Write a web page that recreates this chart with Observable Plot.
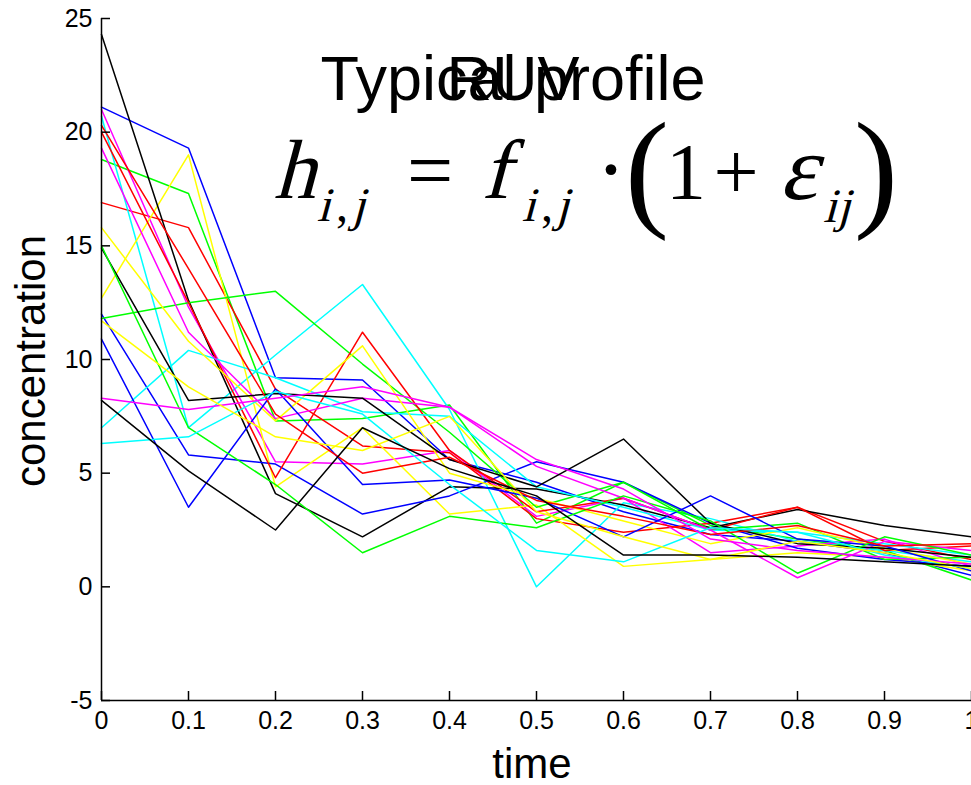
<!DOCTYPE html>
<html>
<head>
<meta charset="utf-8">
<script src="https://cdn.jsdelivr.net/npm/d3@7"></script>
<script src="https://cdn.jsdelivr.net/npm/@observablehq/plot@0.6"></script>
<style>
  html, body { margin: 0; padding: 0; background: #fff; overflow: hidden; }
  #chart { position: relative; width: 971px; height: 785px; }
</style>
</head>
<body>
<div id="chart"></div>
<script>
// ---- data ----
const time = [0, 0.1, 0.2, 0.3, 0.4, 0.5, 0.6, 0.7, 0.8, 0.9, 1.0];

const b1 = [21.1, 19.3, 9.2, 9.1, 5.6, 4.6, 3.3, 2.3, 2.0, 1.5, 0.5];
const g1 = [18.8, 17.3, 7.3, 7.4, 8.0, 2.8, 4.6, 2.7, 2.1, 1.6, 0.3];
const r1 = [16.9, 15.8, 8.7, 6.2, 5.9, 3.0, 2.4, 2.8, 3.5, 2.0, 1.2];
const c1 = [20.7, 7.0, 10.2, 13.3, 7.8, 0.0, 3.7, 3.0, 2.0, 1.6, 1.1];
const m1 = [21.0, 12.3, 5.5, 5.4, 6.0, 3.1, 3.9, 1.5, 1.8, 2.1, 0.9];
const y1 = [12.7, 19.0, 4.4, 7.0, 3.2, 3.6, 0.9, 1.2, 1.5, 1.3, 0.7];
const k1 = [24.3, 12.6, 4.1, 2.2, 4.4, 4.3, 3.6, 2.6, 3.4, 2.7, 2.2];
const b2 = [12.0, 5.8, 5.4, 3.2, 4.0, 5.5, 4.6, 2.8, 1.7, 1.2, 0.9];
const g2 = [11.8, 12.5, 13.0, 9.8, 6.8, 3.5, 4.6, 2.5, 2.8, 1.2, 1.3];
const r2 = [20.0, 12.5, 4.8, 11.2, 6.0, 3.3, 3.9, 2.5, 3.5, 1.6, 1.8];
const c2 = [7.0, 10.4, 9.2, 7.7, 7.5, 4.4, 3.5, 2.5, 2.4, 1.9, 1.4];
const m2 = [19.3, 11.2, 7.4, 8.3, 7.9, 5.3, 3.9, 2.5, 0.4, 2.0, 1.6];
const y2 = [15.8, 10.8, 7.3, 10.6, 5.0, 3.9, 2.9, 1.9, 2.6, 1.7, 1.0];
const k2 = [14.9, 8.2, 8.5, 8.3, 5.6, 4.4, 6.5, 2.8, 1.9, 1.7, 1.3];
const b3 = [10.9, 3.5, 8.7, 4.5, 4.7, 3.9, 2.2, 4.0, 2.1, 1.8, 0.7];
const g3 = [15.0, 7.0, 4.5, 1.5, 3.1, 2.6, 4.0, 2.9, 0.6, 2.2, 1.4];
const r3 = [20.3, 14.0, 7.6, 5.0, 5.7, 3.8, 3.1, 2.3, 2.7, 1.8, 1.9];
const c3 = [6.3, 6.6, 8.6, 7.6, 4.5, 1.6, 1.1, 2.6, 2.4, 1.4, 0.8];
const m3 = [8.3, 7.8, 8.3, 8.8, 7.9, 5.6, 4.3, 2.1, 1.6, 1.3, 1.0];
const y3 = [11.7, 8.8, 6.6, 6.0, 7.5, 3.3, 2.2, 1.2, 2.0, 1.5, 0.8];
const k3 = [8.2, 5.1, 2.5, 7.0, 5.2, 4.0, 1.4, 1.4, 1.3, 1.1, 0.9];

const seriesValues = [b1, g1, r1, c1, m1, y1, k1, b2, g2, r2, c2, m2, y2, k2, b3, g3, r3, c3, m3, y3, k3];
const seriesColors = ["#0000ff", "#00ff00", "#ff0000", "#00ffff", "#ff00ff", "#ffff00", "#000000",
                      "#0000ff", "#00ff00", "#ff0000", "#00ffff", "#ff00ff", "#ffff00", "#000000",
                      "#0000ff", "#00ff00", "#ff0000", "#00ffff", "#ff00ff", "#ffff00", "#000000"];

const xTicks = [0, 0.1, 0.2, 0.3, 0.4, 0.5, 0.6, 0.7, 0.8, 0.9, 1];
const xTickLabels = ["0", "0.1", "0.2", "0.3", "0.4", "0.5", "0.6", "0.7", "0.8", "0.9", "1"];
const yTicks = [-5, 0, 5, 10, 15, 20, 25];
const yTickLabels = ["-5", "0", "5", "10", "15", "20", "25"];

const titleText = "Typical profile";
const overlayText = "RUV";
const xLabel = "time";
const yLabel = "concentration";

// ---- build table ----
const rows = seriesValues.flatMap((vals, k) =>
  time.map((t, i) => ({t, v: vals[i], k, color: seriesColors[k]})));

const plot = Plot.plot({
  width: 971,
  height: 785,
  marginLeft: 101,
  marginRight: 0,
  marginTop: 18,
  marginBottom: 85,
  style: {fontFamily: "'Liberation Sans', Arial, sans-serif", fontSize: "25px", background: "#fff", color: "#000", overflow: "visible"},
  x: {domain: [0, 1]},
  y: {domain: [-5, 25]},
  color: {type: "identity"},
  marks: [
    Plot.line(rows, {x: "t", y: "v", z: "k", stroke: "color", strokeWidth: 1.5}),
    // tick labels
    Plot.axisX(xTicks, {tickSize: 0, tickPadding: 11, tickFormat: (d, i) => xTickLabels[i], label: null}),
    Plot.axisY(yTicks, {tickSize: 0, tickPadding: 9, tickFormat: (d, i) => yTickLabels[i], label: null}),
    // inward ticks
    Plot.axisX(xTicks, {tickSize: -9, tickFormat: () => "", label: null, strokeWidth: 1.5}),
    Plot.axisY(yTicks, {tickSize: -9, tickFormat: () => "", label: null, strokeWidth: 1.5}),
    // axis lines
    Plot.ruleX([0], {stroke: "#000", strokeWidth: 1.5}),
    Plot.ruleY([-5], {stroke: "#000", strokeWidth: 1.5})
  ]
});

document.getElementById("chart").appendChild(plot);

// ---- annotations: axis labels, title, formula ----
const svg = d3.select(plot);
const sans = "'Liberation Sans', Arial, sans-serif";
const serif = "'Liberation Serif', 'Times New Roman', serif";

svg.append("text").text(xLabel)
  .attr("x", 532).attr("y", 778)
  .attr("text-anchor", "middle")
  .style("font-family", sans).style("font-size", "42px").attr("fill", "#000");

svg.append("text").text(yLabel)
  .attr("transform", "translate(45,361) rotate(-90)")
  .attr("text-anchor", "middle")
  .style("font-family", sans).style("font-size", "42px").attr("fill", "#000");

svg.append("text").text(titleText)
  .attr("x", 513).attr("y", 100)
  .attr("text-anchor", "middle")
  .style("font-family", sans).style("font-size", "63px").attr("fill", "#000");

svg.append("text").text(overlayText)
  .attr("x", 513).attr("y", 100)
  .attr("text-anchor", "middle")
  .style("font-family", sans).style("font-size", "63px").attr("fill", "#000");

// formula: glyphs centred at cx; italic ones are slanted about their own centre
const eq = svg.append("g").style("font-family", serif).attr("fill", "#000").attr("text-anchor", "middle");
function piece(txt, cx, baseline, size, italic, cy) {
  if (italic) {
    eq.append("g").attr("transform", `translate(${cx},${cy}) skewX(-15)`)
      .append("text").text(txt).attr("x", 0).attr("y", baseline - cy)
      .style("font-size", size + "px");
  } else {
    eq.append("text").text(txt).attr("x", cx).attr("y", baseline)
      .style("font-size", size + "px");
  }
}
piece("h", 302, 198, 84, true, 170);
piece("i", 327, 221, 48, true, 208);
piece(",", 342, 221, 48, false);
piece("j", 361, 221, 48, true, 210);
piece("=", 430, 198, 82, false);
piece("f", 503, 198, 84, true, 170);
piece("i", 532, 221, 48, true, 208);
piece(",", 547, 221, 48, false);
piece("j", 565, 221, 48, true, 210);
piece("\u00B7", 611, 200, 90, false);
piece("(", 647, 213, 132, false);
piece("1", 686, 199, 80, false);
piece("+", 736, 199, 80, false);
piece("\u03B5", 802, 199, 92, true, 184);
piece("i", 833, 222, 48, true, 210);
piece("j", 846, 222, 48, true, 212);
piece(")", 876, 213, 132, false);
</script>
</body>
</html>
